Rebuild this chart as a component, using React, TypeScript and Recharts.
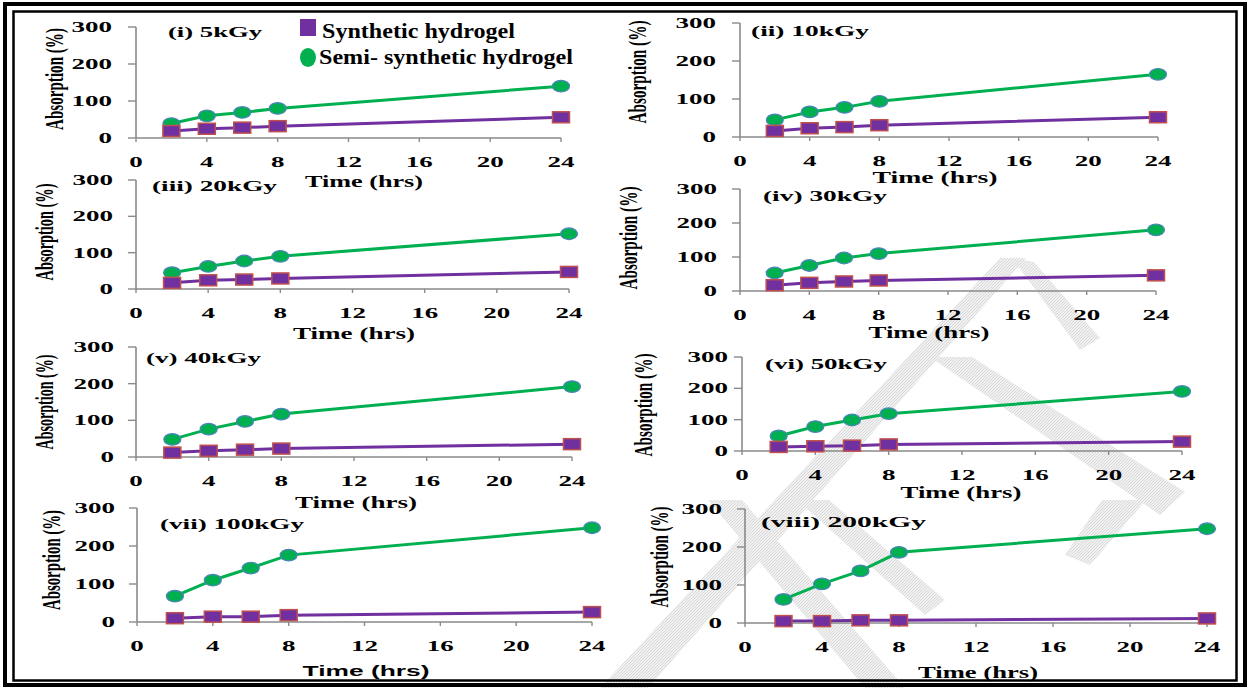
import React from "react";
import { LineChart, Line, XAxis, YAxis } from "recharts";

// hours at which absorption was measured
const times = [2, 4, 6, 8, 24];
const xTicks = [0, 4, 8, 12, 16, 20, 24];
const yTicks = [0, 100, 200, 300];

const doses = ["5kGy", "10kGy", "20kGy", "30kGy", "40kGy", "50kGy", "100kGy", "200kGy"];
const numerals = ["(i)", "(ii)", "(iii)", "(iv)", "(v)", "(vi)", "(vii)", "(viii)"];

// absorption (%) per dose
const synthetic5 = [19, 25, 28, 32, 56];
const semi5 = [39, 60, 69, 80, 140];
const synthetic10 = [16, 23, 26, 31, 52];
const semi10 = [45, 66, 78, 94, 165];
const synthetic20 = [17, 24, 26, 29, 47];
const semi20 = [45, 62, 77, 90, 152];
const synthetic30 = [17, 24, 28, 31, 46];
const semi30 = [53, 75, 97, 110, 180];
const synthetic40 = [12, 17, 20, 23, 35];
const semi40 = [48, 76, 97, 117, 192];
const synthetic50 = [13, 15, 17, 21, 30];
const semi50 = [48, 78, 99, 119, 190];
const synthetic100 = [10, 14, 14, 18, 26];
const semi100 = [68, 110, 142, 176, 248];
const synthetic200 = [5, 5, 7, 7, 12];
const semi200 = [62, 103, 137, 186, 248];

const syntheticSeries = [synthetic5, synthetic10, synthetic20, synthetic30, synthetic40, synthetic50, synthetic100, synthetic200];
const semiSeries = [semi5, semi10, semi20, semi30, semi40, semi50, semi100, semi200];

const GREEN = "#00b050";
const PURPLE = "#7030a0";
const AXIS = "#8a8a8a";
const SERIF = "'Liberation Serif', 'Times New Roman', serif";

// page geometry of every panel (the scanned figure is stretched sideways)
const panels = [
  { ax: 136, x24: 561, top: 27, bot: 138, gap: 24, title: [168, 37, 94], time: [364, 181, 118], ylab: [55, 79, 102] },
  { ax: 740, x24: 1158, top: 23, bot: 137, gap: 24, title: [751, 36, 118], time: [935, 177, 125], ylab: [638, 72, 103] },
  { ax: 136, x24: 569, top: 180, bot: 289, gap: 23, title: [152, 191, 125], time: [354, 333, 122], ylab: [45, 232, 97] },
  { ax: 740, x24: 1156, top: 189, bot: 291, gap: 23, title: [763, 201, 124], time: [929, 332, 121], ylab: [629, 238, 103] },
  { ax: 136, x24: 572, top: 347, bot: 457, gap: 22, title: [146, 363, 115], time: [356, 502, 122], ylab: [45, 402, 95] },
  { ax: 742, x24: 1182, top: 357, bot: 451, gap: 14, title: [765, 369, 122], time: [961, 492, 121], ylab: [644, 405, 103] },
  { ax: 137, x24: 592, top: 508, bot: 622, gap: 22, title: [160, 529, 144], time: [366, 670, 127], ylab: [52, 560, 100] },
  { ax: 745, x24: 1207, top: 509, bot: 623, gap: 23, title: [761, 527, 165], time: [978, 672, 120], ylab: [660, 557, 101] },
];

const YAXIS_W = 100;
const XAXIS_H = 50;
const M_TOP = 10;
const M_RIGHT = 20;

const XTick = (p: any) => (
  <g transform={`translate(${p.x},${p.y + 11}) scale(1.8,1)`}>
    <text x={0} y={0} textAnchor="middle" fontFamily={SERIF} fontWeight="bold" fontSize={15} fill="#000">
      {p.payload.value}
    </text>
  </g>
);

const YTick = (p: any) => (
  <g transform={`translate(${p.x},${p.y + 5}) scale(1.8,1)`}>
    <text x={0} y={0} textAnchor="end" fontFamily={SERIF} fontWeight="bold" fontSize={15} fill="#000">
      {p.payload.value}
    </text>
  </g>
);

const SemiDot = (p: any) => (
  <ellipse key={`s${p.index}`} cx={p.cx} cy={p.cy} rx={8.5} ry={5.8} fill={GREEN} stroke="#4f81bd" strokeWidth={1.2} />
);

const SynDot = (p: any) => (
  <rect key={`y${p.index}`} x={p.cx - 8.5} y={p.cy - 5.5} width={17} height={11} fill={PURPLE} stroke="#c0504d" strokeWidth={1.5} />
);

function Panel({ idx }: { idx: number }) {
  const g = panels[idx];
  const data = times.map((t, i) => ({ t, syn: syntheticSeries[idx][i], semi: semiSeries[idx][i] }));
  const left = g.ax - YAXIS_W;
  const top = g.top - M_TOP;
  const width = g.x24 - g.ax + YAXIS_W + M_RIGHT;
  const height = g.bot - g.top + M_TOP + XAXIS_H;
  return (
    <div style={{ position: "absolute", left, top, width, height }}>
      <LineChart width={width} height={height} data={data} margin={{ top: M_TOP, right: M_RIGHT, bottom: 0, left: 0 }}>
        <XAxis
          type="number"
          dataKey="t"
          domain={[0, 24]}
          ticks={xTicks}
          height={XAXIS_H}
          stroke={AXIS}
          axisLine={{ stroke: AXIS, strokeWidth: 1.6 }}
          tickLine={{ stroke: AXIS, strokeWidth: 1.4 }}
          tickSize={4}
          tickMargin={14}
          tick={XTick}
          interval={0}
        />
        <YAxis
          type="number"
          domain={[0, 300]}
          ticks={yTicks}
          width={YAXIS_W}
          axisLine={{ stroke: AXIS, strokeWidth: 1.6 }}
          tickLine={{ stroke: AXIS, strokeWidth: 1.4 }}
          tickSize={8}
          tickMargin={g.gap - 8}
          tick={YTick}
          interval={0}
        />
        <Line dataKey="semi" stroke={GREEN} strokeWidth={3} dot={SemiDot} isAnimationActive={false} />
        <Line dataKey="syn" stroke={PURPLE} strokeWidth={3} dot={SynDot} isAnimationActive={false} />
      </LineChart>
    </div>
  );
}

// faint hatched watermark bands lying behind the figure
const watermark = [
  "M1000,258 L1026,258 L648,688 L600,688 Z",
  "M1012,258 L1034,262 L1100,338 L1080,350 Z",
  "M930,357 L972,357 L1185,492 L1160,515 Z",
  "M708,500 L742,500 L905,688 L865,688 Z",
  "M797,500 L829,500 L945,600 L925,615 Z",
  "M1102,500 L1146,500 L1090,565 L1065,555 Z",
];

export default function App() {
  return (
    <div style={{ position: "absolute", left: 0, top: 0, width: 1250, height: 688, background: "#fff", overflow: "hidden" }}>
      <svg width={1250} height={688} style={{ position: "absolute", left: 0, top: 0 }}>
        <defs>
          <pattern id="hatch" width="3" height="3" patternUnits="userSpaceOnUse">
            <rect width="3" height="3" fill="#f1f1f1" />
            <path d="M0,3 L3,0" stroke="#d2d2d2" strokeWidth="0.8" />
          </pattern>
        </defs>
        {watermark.map((d, i) => (
          <path key={i} d={d} fill="url(#hatch)" />
        ))}
      </svg>
      {panels.map((_, i) => (
        <Panel key={i} idx={i} />
      ))}
      <svg width={1250} height={688} style={{ position: "absolute", left: 0, top: 0, pointerEvents: "none" }}>
        <rect x={5} y={4} width={1240} height={681} fill="none" stroke="#000" strokeWidth={4} />
        <rect x={13.5} y={11.5} width={1223} height={669} fill="none" stroke="#000" strokeWidth={2.5} />

        {panels.map((g, i) => (
          <g key={i}>
            <text x={g.title[0]} y={g.title[1]} textLength={g.title[2]} lengthAdjust="spacingAndGlyphs"
              fontFamily={SERIF} fontWeight="bold" fontSize={14} fill="#000">
              {`${numerals[i]} ${doses[i]}`}
            </text>
            <text x={g.time[0]} y={g.time[1] + 6} textAnchor="middle" textLength={g.time[2]} lengthAdjust="spacingAndGlyphs"
              fontFamily={i === 6 ? "'Liberation Sans', Arial, sans-serif" : SERIF} fontWeight="bold"
              fontSize={i === 6 ? 15 : 17.5} fill="#000">
              Time (hrs)
            </text>
            <g transform={`translate(${g.ylab[0]},${g.ylab[1]}) scale(1.7,1) rotate(-90)`}>
              <text x={0} y={0} dy="0.32em" textAnchor="middle" textLength={g.ylab[2]} lengthAdjust="spacingAndGlyphs"
                fontFamily={SERIF} fontWeight="bold" fontSize={15} fill="#000">
                Absorption (%)
              </text>
            </g>
          </g>
        ))}

        <rect x={300} y={19} width={16} height={17} fill={PURPLE} />
        <text x={322} y={37.5} textLength={193} lengthAdjust="spacingAndGlyphs" fontFamily={SERIF} fontWeight="bold" fontSize={21} fill="#000">
          Synthetic hydrogel
        </text>
        <ellipse cx={308} cy={57.5} rx={8} ry={9.5} fill={GREEN} />
        <text x={319} y={63.5} textLength={254} lengthAdjust="spacingAndGlyphs" fontFamily={SERIF} fontWeight="bold" fontSize={21} fill="#000">
          Semi- synthetic hydrogel
        </text>
      </svg>
    </div>
  );
}
